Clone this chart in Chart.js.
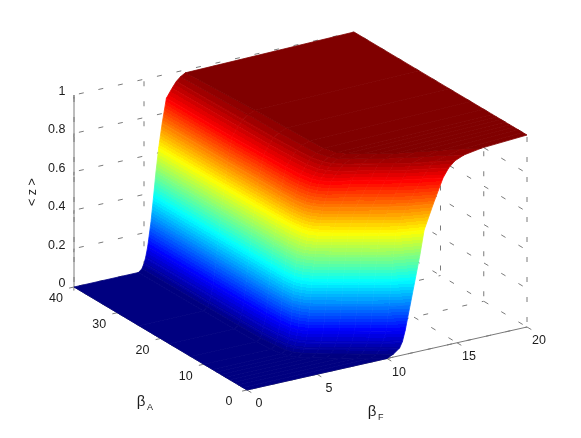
<!DOCTYPE html>
<html>
<head>
<meta charset="utf-8">
<title>z surface</title>
<script src="https://cdn.jsdelivr.net/npm/chart.js@4"></script>
<style>
    body { margin: 0; background: #fff; }
    canvas { display: block; }
</style>
</head>
<body>
<canvas id="chartSurface" width="581" height="438"></canvas>
<script>
// Data
const betaFTicks = [0, 5, 10, 15, 20];
const betaATicks = [0, 10, 20, 30, 40];
const zTicks = [0, 0.2, 0.4, 0.6, 0.8, 1];
const zTickLabels = ["0", "0.2", "0.4", "0.6", "0.8", "1"];

const betaARows = [0, 1, 2, 3, 4, 5, 6, 7, 8, 10, 13, 18, 25, 40];
const zLevels = [0, 0, 0.015, 0.04, 0.07, 0.125, 0.25, 0.375, 0.5, 0.625, 0.75, 0.875, 0.92, 0.95, 0.97, 0.985, 1];
// betaF where the surface reaches each z level, one row per betaA
const betaFAtLevel = [
    [0, 10.0, 10.45, 10.9, 11.1, 11.3, 11.65, 12.0, 12.35, 12.65, 13.3, 14.0, 14.4, 14.85, 15.5, 16.75, 20],
    [0, 9.15, 9.55, 9.8, 10.0, 10.25, 10.45, 10.6, 10.75, 10.95, 11.7, 12.8, 13.25, 13.6, 14.6, 15.6, 20],
    [0, 8.4, 8.8, 9.05, 9.23, 9.43, 9.58, 9.73, 9.88, 10.05, 10.75, 11.7, 12.05, 12.3, 13.3, 14.35, 20],
    [0, 7.65, 8.05, 8.25, 8.42, 8.62, 8.77, 8.92, 9.07, 9.27, 9.85, 10.8, 11.15, 11.4, 12.15, 12.95, 20],
    [0, 6.9, 7.25, 7.45, 7.61, 7.81, 7.96, 8.11, 8.26, 8.45, 9.0, 10.05, 10.35, 10.6, 11.15, 11.7, 20],
    [0, 6.15, 6.5, 6.68, 6.82, 7.0, 7.15, 7.3, 7.45, 7.65, 8.2, 9.0, 9.4, 9.7, 10.25, 10.85, 20],
    [0, 5.5, 5.82, 5.95, 6.05, 6.2, 6.35, 6.5, 6.7, 6.95, 7.3, 7.85, 8.35, 8.75, 9.3, 10.0, 20],
    [0, 5.15, 5.45, 5.55, 5.65, 5.8, 5.95, 6.1, 6.25, 6.55, 6.85, 7.35, 7.85, 8.2, 8.65, 9.3, 20],
    [0, 4.95, 5.25, 5.35, 5.45, 5.58, 5.72, 5.85, 6.05, 6.4, 6.6, 7.1, 7.55, 7.9, 8.3, 8.85, 20],
    [0, 4.8, 5.1, 5.2, 5.3, 5.45, 5.6, 5.75, 5.95, 6.25, 6.45, 6.9, 7.35, 7.65, 8.05, 8.55, 20],
    [0, 4.7, 4.98, 5.08, 5.2, 5.37, 5.55, 5.72, 5.92, 6.2, 6.4, 6.8, 7.25, 7.55, 7.95, 8.5, 20],
    [0, 4.65, 4.93, 5.05, 5.17, 5.33, 5.53, 5.72, 5.9, 6.15, 6.38, 6.75, 7.15, 7.45, 7.85, 8.4, 20],
    [0, 4.62, 4.9, 5.02, 5.14, 5.3, 5.52, 5.7, 5.88, 6.12, 6.32, 6.65, 7.1, 7.4, 7.8, 8.3, 20],
    [0, 4.6, 4.85, 5.0, 5.12, 5.27, 5.5, 5.68, 5.85, 6.05, 6.3, 6.6, 7.0, 7.3, 7.6, 7.95, 20]
];

const gridColor = "#7a7a7a";
const textColor = "#1c1c1c";
const fontName = '"Liberation Sans", Arial, sans-serif';

// Orthographic view of the box, as measured on the picture.
// The x and y scales below run over the whole canvas, so these units are pixels.
function project(f, a, z) {
    return {
        x: 247 + 14 * f - 4.325 * a,
        y: 390 - 3.15 * f - 2.575 * a - 192 * z
    };
}

// 64 step jet colormap
function jetColor(k) {
    const v = k / 63;
    const part = (c) => Math.round(255 * Math.max(0, Math.min(1, 1.5 - Math.abs(4 * v - c))));
    return `rgb(${part(3)}, ${part(2)}, ${part(1)})`;
}

function bandGradient(ctx, px, z0, z1) {
    // gradient runs across the contour direction of the quad
    const dx = px[1].x - px[0].x + px[2].x - px[3].x;
    const dy = px[1].y - px[0].y + px[2].y - px[3].y;
    const len = Math.hypot(dx, dy) || 1;
    const nx = -dy / len;
    const ny = dx / len;
    const m0 = { x: (px[0].x + px[1].x) / 2, y: (px[0].y + px[1].y) / 2 };
    const m1 = { x: (px[2].x + px[3].x) / 2, y: (px[2].y + px[3].y) / 2 };
    const h = (m1.x - m0.x) * nx + (m1.y - m0.y) * ny;
    const grad = ctx.createLinearGradient(m0.x, m0.y, m0.x + nx * h, m0.y + ny * h);
    const first = Math.min(63, Math.floor(z0 * 64));
    const last = Math.min(63, Math.floor(z1 * 64 - 1e-9));
    if (z1 <= z0 || last <= first) {
        grad.addColorStop(0, jetColor(first));
        grad.addColorStop(1, jetColor(first));
        return grad;
    }
    for (let k = first; k <= last; k++) {
        const t0 = (Math.max(k / 64, z0) - z0) / (z1 - z0);
        const t1 = (Math.min((k + 1) / 64, z1) - z0) / (z1 - z0);
        grad.addColorStop(t0, jetColor(k));
        grad.addColorStop(t1, jetColor(k));
    }
    return grad;
}

// Surface quads, nearest first because Chart.js paints the first dataset on top
function surfaceDatasets(ctx) {
    const sets = [];
    for (let i = 0; i < betaARows.length - 1; i++) {
        for (let j = 0; j < zLevels.length - 1; j++) {
            const corners = [
                project(betaFAtLevel[i][j], betaARows[i], zLevels[j]),
                project(betaFAtLevel[i + 1][j], betaARows[i + 1], zLevels[j]),
                project(betaFAtLevel[i + 1][j + 1], betaARows[i + 1], zLevels[j + 1]),
                project(betaFAtLevel[i][j + 1], betaARows[i], zLevels[j + 1])
            ];
            const paint = bandGradient(ctx, corners, zLevels[j], zLevels[j + 1]);
            sets.push({
                data: corners.concat([corners[0]]),
                showLine: true,
                fill: "shape",
                backgroundColor: paint,
                borderColor: paint,
                borderWidth: 0.8,
                pointRadius: 0,
                tension: 0
            });
        }
    }
    return sets;
}

function gridLine(from, to) {
    return {
        data: [from, to],
        showLine: true,
        fill: false,
        borderColor: gridColor,
        borderWidth: 1,
        borderDash: [5, 15],
        borderDashOffset: -5,
        pointRadius: 0
    };
}

function solidLine(from, to) {
    return {
        data: [from, to],
        showLine: true,
        fill: false,
        borderColor: gridColor,
        borderWidth: 1,
        pointRadius: 0
    };
}

function boxDatasets() {
    const sets = [];
    zTicks.forEach((z) => {
        if (z > 0) {
            sets.push(gridLine(project(0, 40, z), project(20, 40, z)));
            sets.push(gridLine(project(20, 0, z), project(20, 40, z)));
        }
        sets.push(solidLine(project(0, 40, z), project(-0.32, 39, z)));
    });
    betaFTicks.forEach((f) => {
        sets.push(gridLine(project(f, 40, 0), project(f, 40, 1)));
        sets.push(gridLine(project(f, 0, 0), project(f, 40, 0)));
        sets.push(solidLine(project(f, 0, 0), project(f, -1, 0)));
    });
    betaATicks.forEach((a) => {
        sets.push(gridLine(project(20, a, 0), project(20, a, 1)));
        sets.push(gridLine(project(0, a, 0), project(20, a, 0)));
        sets.push(solidLine(project(0, a, 0), project(-0.35, a, 0)));
    });
    sets.push(solidLine(project(0, 40, 0), project(0, 40, 1)));
    sets.push(solidLine(project(0, 0, 0), project(20, 0, 0)));
    sets.push(solidLine(project(0, 0, 0), project(0, 40, 0)));
    return sets;
}

// Tick labels and axis titles
const axisText = {
    id: "axisText",
    afterDraw(chart) {
        const ctx = chart.ctx;
        const sx = chart.scales.x;
        const sy = chart.scales.y;
        const put = (text, x, y, font, align) => {
            ctx.font = font;
            ctx.textAlign = align || "center";
            ctx.fillText(text, sx.getPixelForValue(x), sy.getPixelForValue(y));
        };
        ctx.save();
        ctx.fillStyle = textColor;
        ctx.textBaseline = "middle";
        const tickFont = `12.5px ${fontName}`;
        zTicks.forEach((z, i) => {
            put(zTickLabels[i], 65.5, project(0, 40, z).y - 3.5, tickFont, "right");
        });
        betaATicks.forEach((a) => {
            const p = project(0, a, 0);
            put(String(a), p.x - 18, p.y + 12, tickFont);
        });
        betaFTicks.forEach((f) => {
            const p = project(f, 0, 0);
            put(String(f), p.x + 12, p.y + 14, tickFont);
        });
        put("\u03b2", 141, 402, `15px ${fontName}`);
        put("A", 147, 408, `9px ${fontName}`, "left");
        put("\u03b2", 372, 412, `15px ${fontName}`);
        put("F", 378, 418, `9px ${fontName}`, "left");
        ctx.translate(33, 192);
        ctx.rotate(-Math.PI / 2);
        ctx.font = `12.5px ${fontName}`;
        ctx.textAlign = "center";
        ctx.fillText("< z >", 0, 0);
        ctx.restore();
    }
};

const canvas = document.getElementById("chartSurface");
const drawCtx = canvas.getContext("2d");
new Chart(drawCtx, {
    type: "scatter",
    data: { datasets: surfaceDatasets(drawCtx).concat(boxDatasets()) },
    options: {
        responsive: false,
        animation: false,
        layout: { padding: 0 },
        events: [],
        plugins: {
            legend: { display: false },
            title: { display: false },
            tooltip: { enabled: false }
        },
        scales: {
            x: { type: "linear", min: 0, max: 581, display: false },
            y: { type: "linear", min: 0, max: 438, reverse: true, display: false }
        }
    },
    plugins: [axisText]
});
</script>
</body>
</html>
